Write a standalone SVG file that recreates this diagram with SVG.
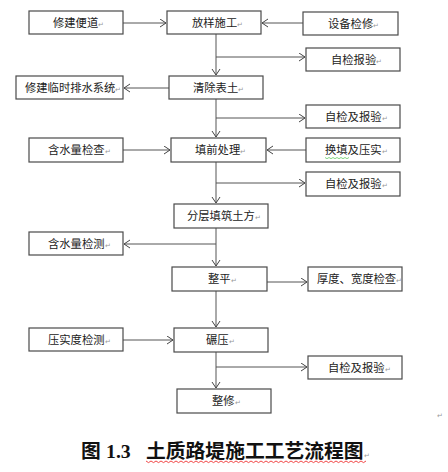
<svg xmlns="http://www.w3.org/2000/svg" width="448" height="472" viewBox="0 0 448 472">
<style>
.box{fill:#fff;stroke:#4a4a4a;stroke-width:1.2}
.t{font-family:"Noto Sans CJK SC","Noto Sans",sans-serif;font-size:11.3px;fill:#222}
.r{font-size:7px;fill:#999}
.ln{fill:none;stroke:#555;stroke-width:1}
.cap{font-family:"Noto Sans CJK SC",sans-serif;font-size:19.8px;font-weight:700;fill:#111}
</style>
<defs>
<marker id="a" markerUnits="userSpaceOnUse" markerWidth="9" markerHeight="10" refX="7" refY="4.5" orient="auto">
<path d="M1,0.5 L7,4.5 L1,8.5" fill="none" stroke="#444" stroke-width="1"/>
</marker>
</defs>
<rect width="448" height="472" fill="#fff"/>
<g id="connectors">
<line class="ln" x1="123" y1="23" x2="166" y2="23" marker-end="url(#a)"/>
<line class="ln" x1="303" y1="23" x2="262" y2="23" marker-end="url(#a)"/>
<line class="ln" x1="216" y1="34" x2="216" y2="75" marker-end="url(#a)"/>
<line class="ln" x1="216" y1="57" x2="305" y2="57" marker-end="url(#a)"/>
<line class="ln" x1="169" y1="88" x2="124" y2="88" marker-end="url(#a)"/>
<line class="ln" x1="216" y1="99" x2="216" y2="137" marker-end="url(#a)"/>
<line class="ln" x1="216" y1="118" x2="305" y2="118" marker-end="url(#a)"/>
<line class="ln" x1="123" y1="150" x2="170" y2="150" marker-end="url(#a)"/>
<line class="ln" x1="306" y1="150" x2="267" y2="150" marker-end="url(#a)"/>
<line class="ln" x1="216" y1="162" x2="216" y2="203" marker-end="url(#a)"/>
<line class="ln" x1="216" y1="183" x2="305" y2="183" marker-end="url(#a)"/>
<line class="ln" x1="216" y1="228" x2="216" y2="266" marker-end="url(#a)"/>
<line class="ln" x1="216" y1="244" x2="124" y2="244" marker-end="url(#a)"/>
<line class="ln" x1="267" y1="282" x2="307" y2="282" marker-end="url(#a)"/>
<line class="ln" x1="216" y1="291" x2="216" y2="327" marker-end="url(#a)"/>
<line class="ln" x1="123" y1="340" x2="173" y2="340" marker-end="url(#a)"/>
<line class="ln" x1="216" y1="352" x2="216" y2="388" marker-end="url(#a)"/>
<line class="ln" x1="216" y1="367" x2="307" y2="367" marker-end="url(#a)"/>
</g>
<g id="n1"><rect class="box" x="29" y="11" width="94" height="23"/><text class="t" x="53" y="27">修建便道<tspan class="r">↵</tspan></text></g>
<g id="n2"><rect class="box" x="167" y="11" width="94" height="23"/><text class="t" x="192" y="27">放样施工<tspan class="r">↵</tspan></text></g>
<g id="n3"><rect class="box" x="303" y="12" width="95" height="23"/><text class="t" x="328" y="28">设备检修<tspan class="r">↵</tspan></text></g>
<g id="n4"><rect class="box" x="306" y="48" width="94" height="23"/><text class="t" x="331" y="64">自检报验<tspan class="r">↵</tspan></text></g>
<g id="n5"><rect class="box" x="169" y="76" width="94" height="23"/><text class="t" x="193" y="92">清除表土<tspan class="r">↵</tspan></text></g>
<g id="n6"><rect class="box" x="16" y="76" width="107" height="23"/><text class="t" x="25" y="92">修建临时排水系统<tspan class="r">↵</tspan></text></g>
<g id="n7"><rect class="box" x="306" y="105" width="94" height="23"/><text class="t" x="325" y="121">自检及报验<tspan class="r">↵</tspan></text></g>
<g id="n8"><rect class="box" x="171" y="138" width="95" height="24"/><text class="t" x="195" y="154">填前处理<tspan class="r">↵</tspan></text></g>
<g id="n9"><rect class="box" x="29" y="138" width="94" height="24"/><text class="t" x="48" y="154">含水量检查<tspan class="r">↵</tspan></text></g>
<g id="n10"><rect class="box" x="306" y="138" width="94" height="24"/><text class="t" x="325" y="154">换填及压实<tspan class="r">↵</tspan></text><path d="M325,157.5 l2,1.2 l2,-1.2 l2,1.2 l2,-1.2 l2,1.2 l2,-1.2 l2,1.2 l2,-1.2 l2,1.2 l2,-1.2 l2,1.2 l2,-1.2" fill="none" stroke="#6c6" stroke-width="0.8"/></g>
<g id="n11"><rect class="box" x="306" y="172" width="94" height="24"/><text class="t" x="325" y="188">自检及报验<tspan class="r">↵</tspan></text></g>
<g id="n12"><rect class="box" x="174" y="204" width="94" height="24"/><text class="t" x="187" y="220">分层填筑土方<tspan class="r">↵</tspan></text></g>
<g id="n13"><rect class="box" x="29" y="232" width="94" height="23"/><text class="t" x="48" y="248">含水量检测<tspan class="r">↵</tspan></text></g>
<g id="n14"><rect class="box" x="172" y="267" width="95" height="24"/><text class="t" x="208" y="283">整平<tspan class="r">↵</tspan></text></g>
<g id="n15"><rect class="box" x="308" y="267" width="94" height="24"/><text class="t" x="317" y="283">厚度、宽度检查<tspan class="r">↵</tspan></text></g>
<g id="n16"><rect class="box" x="174" y="328" width="94" height="24"/><text class="t" x="206" y="344">碾压<tspan class="r">↵</tspan></text></g>
<g id="n17"><rect class="box" x="29" y="328" width="94" height="23"/><text class="t" x="48" y="344">压实度检测<tspan class="r">↵</tspan></text></g>
<g id="n18"><rect class="box" x="308" y="356" width="94" height="23"/><text class="t" x="328" y="372">自检及报验<tspan class="r">↵</tspan></text></g>
<g id="n19"><rect class="box" x="177" y="389" width="94" height="24"/><text class="t" x="212" y="405">整修<tspan class="r">↵</tspan></text></g>
<text class="t" x="437" y="418"><tspan class="r">↵</tspan></text>
<g id="caption">
<text class="cap" x="81" y="458">图</text>
<text class="cap" x="106" y="458" style="font-family:'Liberation Serif',serif">1.3</text>
<text class="cap" x="146" y="458">土质路堤施工工艺流程图<tspan class="r" style="font-weight:400">↵</tspan></text>
<path d="M146,461 l2.5,1.6 l2.5,-1.6 l2.5,1.6 l2.5,-1.6 l2.5,1.6 l2.5,-1.6 l2.5,1.6 l2.5,-1.6 l2.5,1.6 l2.5,-1.6 l2.5,1.6 l2.5,-1.6 l2.5,1.6 l2.5,-1.6 l2.5,1.6 l2.5,-1.6 l2.5,1.6 l2.5,-1.6 l2.5,1.6 l2.5,-1.6 l2.5,1.6 l2.5,-1.6 l2.5,1.6 l2.5,-1.6 l2.5,1.6 l2.5,-1.6 l2.5,1.6 l2.5,-1.6 l2.5,1.6 l2.5,-1.6 l2.5,1.6 l2.5,-1.6 l2.5,1.6 l2.5,-1.6 l2.5,1.6 l2.5,-1.6 l2.5,1.6 l2.5,-1.6 l2.5,1.6 l2.5,-1.6 l2.5,1.6 l2.5,-1.6 l2.5,1.6 l2.5,-1.6 l2.5,1.6 l2.5,-1.6 l2.5,1.6 l2.5,-1.6 l2.5,1.6 l2.5,-1.6 l2.5,1.6 l2.5,-1.6 l2.5,1.6 l2.5,-1.6 l2.5,1.6 l2.5,-1.6 l2.5,1.6 l2.5,-1.6 l2.5,1.6 l2.5,-1.6 l2.5,1.6 l2.5,-1.6 l2.5,1.6 l2.5,-1.6 l2.5,1.6 l2.5,-1.6 l2.5,1.6 l2.5,-1.6 l2.5,1.6 l2.5,-1.6 l2.5,1.6 l2.5,-1.6 l2.5,1.6 l2.5,-1.6 l2.5,1.6 l2.5,-1.6 l2.5,1.6 l2.5,-1.6 l2.5,1.6 l2.5,-1.6 l2.5,1.6 l2.5,-1.6 l2.5,1.6 l2.5,-1.6 l2.5,1.6 l2.5,-1.6 l2.5,1.6 l2.5,-1.6" fill="none" stroke="#e33" stroke-width="0.9"/>
</g>
</svg>
